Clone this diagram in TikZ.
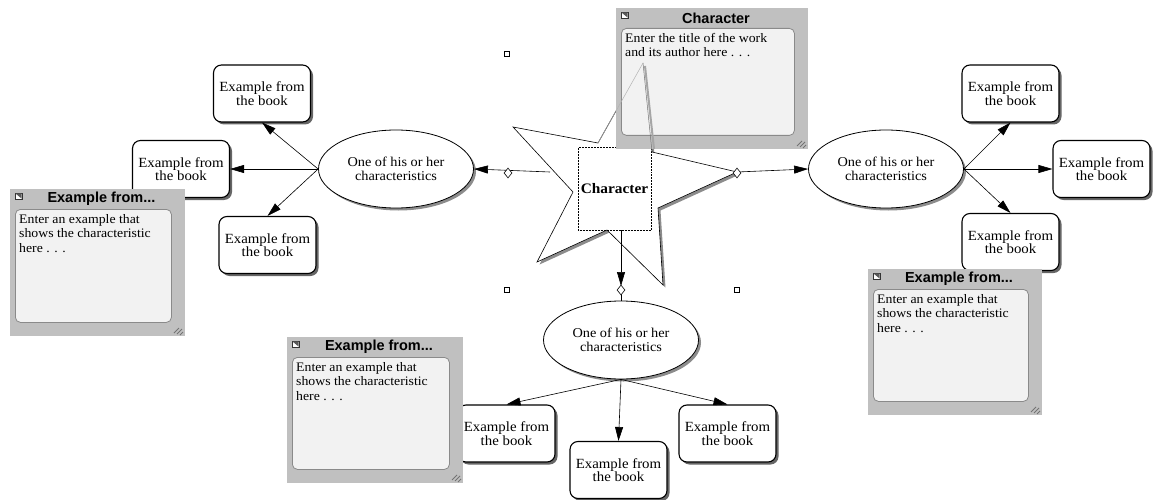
\documentclass[tikz,border=0pt]{standalone}
\usepackage{fontspec}
\setmainfont{Liberation Serif}[FakeStretch=1.06]
\newfontfamily\titlefont{Liberation Sans}
\usetikzlibrary{shapes.geometric,shadows,arrows.meta,calc}
\definecolor{noteout}{HTML}{C0C0C0}
\definecolor{notein}{HTML}{F2F2F2}
\definecolor{noteedge}{HTML}{8A8A8A}
\tikzset{
  ebox/.style={draw, line width=1.1pt, rounded corners=8pt, fill=white,
    minimum width=97pt, minimum height=57pt, align=center, inner sep=1pt,
    font=\fontsize{14}{13.6}\selectfont,
    drop shadow={shadow xshift=2.5pt, shadow yshift=-2.5pt, fill=black!60, opacity=1}},
  ell/.style={ellipse, draw, line width=0.8pt, fill=white, minimum width=155pt,
    minimum height=78pt, align=center, inner sep=0pt,
    font=\fontsize{13.5}{13.6}\selectfont,
    drop shadow={shadow xshift=2.5pt, shadow yshift=-2.5pt, fill=black!45, opacity=1}},
  arr/.style={line width=0.6pt, -{Triangle[length=14pt,width=8pt]}},
  conn/.style={line width=0.6pt},
  handle/.style={rectangle, draw, line width=0.6pt, fill=white, minimum size=5pt, inner sep=0pt},
  dmd/.style={diamond, draw, line width=0.6pt, fill=white, minimum width=8pt, minimum height=10pt, inner sep=0pt},
  noteouter/.style={rectangle, fill=noteout, inner sep=0pt, anchor=north west},
  noteinner/.style={rectangle, fill=notein, draw=noteedge, line width=0.8pt, rounded corners=5pt, inner sep=0pt, anchor=north west},
  notetext/.style={anchor=north west, align=left, inner sep=0pt, font=\fontsize{13}{14.5}\selectfont},
  notetitle/.style={inner sep=0pt, font=\titlefont\bfseries\fontsize{14.5}{15}\selectfont},
}
\newcommand\mynote[7]{%
  \node[noteouter, minimum width={(#4-#2)*1pt}, minimum height={(#5-#3)*1pt}] (#1) at (#2,#3) {};
  \node[noteinner, minimum width={(#4-#2-19)*1pt}, minimum height={(#5-#3-34)*1pt}] (#1in) at (#2+5,#3+20) {};
  \node[notetext] (#1tx) at (#2+9,#3+25) {#7};
  \node[notetitle] (#1tt) at ({(#2+#4)/2+4},#3+10) {#6};
  \draw[black!80, line width=0.5pt, fill=white] (#2+5,#3+4) rectangle (#2+12,#3+10);
  \fill[black!65] (#2+5.4,#3+4.4) -- (#2+11.6,#3+4.4) -- (#2+11.6,#3+9.6) -- cycle;
  \draw[black!55, line width=0.8pt] (#4-11,#5-3) -- (#4-6,#5-8) (#4-8,#5-2) -- (#4-3,#5-7) (#4-5,#5-1) -- (#4-2,#5-4);
}
\begin{document}
\begin{tikzpicture}[x=1pt, y=-1pt]
\useasboundingbox (0,0) rectangle (1156,500);

% star
\coordinate (st1) at (643,63);
\coordinate (st2) at (652,152);
\coordinate (st3) at (737,172);
\coordinate (st4) at (658,208);
\coordinate (st5) at (663,285);
\coordinate (st6) at (607,230);
\coordinate (st7) at (537,262);
\coordinate (st8) at (573,192);
\coordinate (st9) at (513,127);
\coordinate (st10) at (598,143);
\filldraw[fill=white, draw=black, line width=0.6pt,
  drop shadow={shadow xshift=2.5pt, shadow yshift=-2.5pt, fill=black!45, opacity=1}]
  (st1) -- (st2) -- (st3) -- (st4) -- (st5) -- (st6) -- (st7) -- (st8) -- (st9) -- (st10) -- cycle;
\node[draw, densely dotted, line width=0.5pt, minimum width=73pt, minimum height=83pt,
  inner sep=0pt, font=\bfseries\fontsize{14.5}{15}\selectfont] (chr) at (614.5,188.5) {Character};

\coordinate (sL) at (550,172);
\coordinate (sR) at (737,172);
\coordinate (sB) at (621,230);

% handles
\node[handle] (h1) at (507,54) {};
\node[handle] (h2) at (507,290) {};
\node[handle] (h3) at (737,290) {};
\node[handle] (h4) at (737,54) {};

% ellipses
\node[ell] (EL) at (396,169) {One of his or her\\characteristics};
\node[ell] (ER) at (886,169) {One of his or her\\characteristics};
\node[ell] (EB) at (621,340) {One of his or her\\characteristics};

% boxes
\node[ebox] (L1) at (262,93.5) {Example from\\the book};
\node[ebox] (L2) at (181,169) {Example from\\the book};
\node[ebox] (L3) at (267.5,245) {Example from\\the book};
\node[ebox] (R1) at (1010.5,93.5) {Example from\\the book};
\node[ebox] (R2) at (1101.5,169) {Example from\\the book};
\node[ebox] (R3) at (1010.5,242) {Example from\\the book};
\node[ebox] (B1) at (506.5,433.5) {Example from\\the book};
\node[ebox] (B2) at (618.5,470) {Example from\\the book};
\node[ebox] (B3) at (727.5,433.5) {Example from\\the book};

% connectors from star
\draw[arr] (sL) -- (EL.east);
\draw[arr] (sR) -- (ER.west);
\node[dmd] (dL) at (508,173) {};
\node[dmd] (dR) at (737,173) {};
\draw[arr] (sB) -- (621,286);
\draw[conn] (621,294) -- (EB.north);
\node[dmd] (dB) at (621,290) {};

% connectors from ellipses
\draw[arr] (EL.west) -- (L1.south);
\draw[arr] (EL.west) -- (L2.east);
\draw[arr] (EL.west) -- (L3.north);
\draw[arr] (ER.east) -- (R1.south);
\draw[arr] (ER.east) -- (R2.west);
\draw[arr] (ER.east) -- (R3.north);
\draw[arr] (EB.south) -- (B1.north);
\draw[arr] (EB.south) -- (B2.north);
\draw[arr] (EB.south) -- (B3.north);

% notes
\mynote{NL}{10}{189}{185}{336}{Example from...}{Enter an example that\\shows the characteristic\\here . . .}
\mynote{NB}{287}{337}{463}{483}{Example from...}{Enter an example that\\shows the characteristic\\here . . .}
\mynote{NR}{868}{269}{1042}{415}{Example from...}{Enter an example that\\shows the characteristic\\here . . .}
\mynote{NC}{616}{8}{808}{149}{Character}{Enter the title of the work\\and its author here . . .}

% star tip seen through the top note
\draw[black!30, line width=0.5pt] (st10) -- (st1);
\draw[black!35, line width=2pt] ($(st1)+(2,3)$) -- ($(st2)+(2,-3)$);
\draw[black!55, line width=0.5pt] (st1) -- (st2);
\end{tikzpicture}
\end{document}
